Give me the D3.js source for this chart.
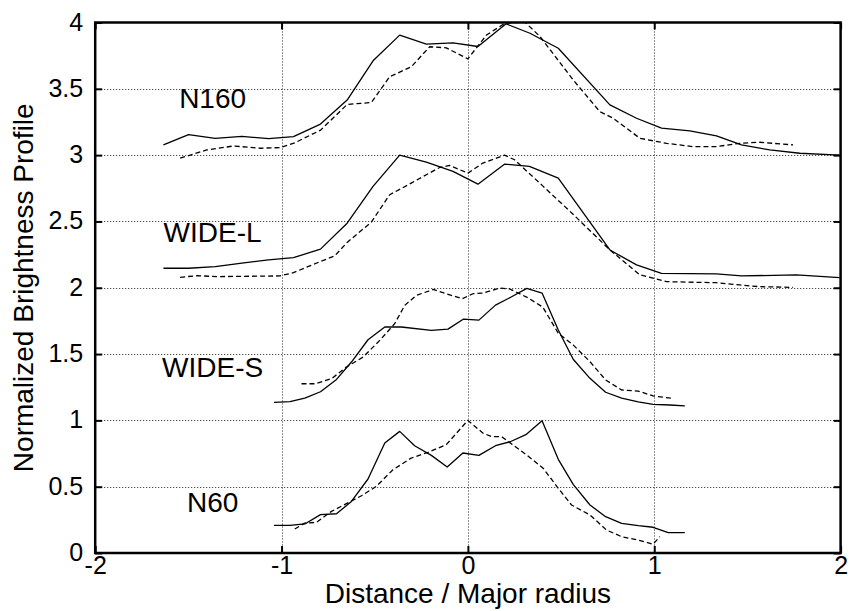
<!DOCTYPE html>
<html>
<head>
<meta charset="utf-8">
<script src="https://cdn.jsdelivr.net/npm/d3@7"></script>
<style>
  html, body { margin: 0; padding: 0; background: #fff; }
  svg { display: block; }
  text { font-family: "Liberation Sans", Arial, Helvetica, sans-serif; fill: #000; }
</style>
</head>
<body>
<svg id="chart" width="851" height="611"></svg>
<script>
// ---- data ----
const xTicks = [-2, -1, 0, 1, 2];
const yTicks = [0, 0.5, 1, 1.5, 2, 2.5, 3, 3.5, 4];
const xLabel = "Distance / Major radius";
const yLabel = "Normalized Brightness Profile";

const n160Solid = [[-1.634,3.077],[-1.499,3.155],[-1.356,3.127],[-1.213,3.142],[-1.070,3.124],[-0.936,3.140],[-0.791,3.234],[-0.648,3.415],[-0.509,3.711],[-0.366,3.905],[-0.223,3.837],[-0.080,3.847],[0.054,3.819],[0.205,3.990],[0.333,3.919],[0.485,3.806],[0.762,3.379],[0.905,3.278],[1.039,3.203],[1.191,3.183],[1.334,3.145],[1.468,3.077],[1.620,3.039],[1.781,3.014],[1.995,3.0]];
const n160Dashed = [[-1.544,2.977],[-1.401,3.039],[-1.258,3.069],[-1.115,3.052],[-1.008,3.057],[-0.929,3.093],[-0.791,3.188],[-0.648,3.382],[-0.518,3.397],[-0.420,3.591],[-0.304,3.666],[-0.205,3.817],[-0.116,3.809],[0.0,3.726],[0.100,3.906],[0.200,3.995],[0.306,4.003],[0.387,3.894],[0.565,3.567],[0.708,3.328],[0.780,3.278],[0.923,3.127],[1.066,3.089],[1.209,3.064],[1.334,3.064],[1.459,3.089],[1.566,3.097],[1.745,3.077]];
const wideLSolid = [[-1.634,2.147],[-1.499,2.147],[-1.356,2.159],[-1.213,2.185],[-1.070,2.210],[-0.936,2.227],[-0.791,2.291],[-0.648,2.487],[-0.509,2.764],[-0.366,3.0],[-0.223,2.947],[-0.080,2.877],[0.054,2.781],[0.196,2.932],[0.330,2.915],[0.485,2.826],[0.762,2.285],[0.905,2.172],[1.039,2.109],[1.334,2.104],[1.468,2.089],[1.762,2.097],[1.995,2.076]];
const wideLDashed = [[-1.544,2.079],[-1.454,2.091],[-1.347,2.084],[-1.008,2.089],[-0.936,2.114],[-0.791,2.198],[-0.714,2.241],[-0.648,2.342],[-0.518,2.495],[-0.420,2.701],[-0.304,2.789],[-0.152,2.907],[-0.098,2.922],[0.0,2.864],[0.080,2.940],[0.196,3.0],[0.250,2.965],[0.400,2.770],[0.560,2.560],[0.762,2.285],[0.923,2.097],[1.066,2.046],[1.227,2.041],[1.334,2.038],[1.459,2.021],[1.566,2.008],[1.745,2.003]];
const wideSSolid = [[-1.041,1.136],[-0.955,1.141],[-0.875,1.168],[-0.791,1.216],[-0.705,1.309],[-0.625,1.440],[-0.536,1.608],[-0.446,1.704],[-0.357,1.704],[-0.196,1.678],[-0.107,1.688],[-0.023,1.764],[0.059,1.756],[0.148,1.869],[0.232,1.930],[0.316,1.995],[0.398,1.960],[0.485,1.682],[0.565,1.461],[0.655,1.317],[0.739,1.212],[0.825,1.167],[0.914,1.139],[0.994,1.121],[1.084,1.116],[1.164,1.109]];
const wideSDashed = [[-0.893,1.276],[-0.821,1.276],[-0.732,1.314],[-0.652,1.402],[-0.563,1.477],[-0.473,1.603],[-0.393,1.729],[-0.339,1.867],[-0.277,1.942],[-0.187,1.987],[-0.116,1.955],[-0.030,1.917],[0.027,1.955],[0.080,1.960],[0.170,1.997],[0.223,1.992],[0.321,1.925],[0.402,1.854],[0.485,1.657],[0.565,1.569],[0.655,1.443],[0.739,1.305],[0.825,1.229],[0.914,1.221],[0.994,1.184],[1.093,1.167]];
const n60Solid = [[-1.041,0.209],[-0.955,0.209],[-0.875,0.219],[-0.791,0.289],[-0.705,0.296],[-0.625,0.389],[-0.536,0.558],[-0.446,0.829],[-0.366,0.917],[-0.286,0.809],[-0.196,0.736],[-0.111,0.648],[-0.027,0.754],[0.059,0.736],[0.148,0.809],[0.227,0.839],[0.311,0.892],[0.398,0.997],[0.485,0.706],[0.565,0.518],[0.655,0.362],[0.739,0.274],[0.825,0.224],[0.914,0.206],[0.994,0.194],[1.075,0.153],[1.164,0.153]];
const n60Dashed = [[-0.929,0.181],[-0.875,0.226],[-0.813,0.231],[-0.732,0.314],[-0.652,0.372],[-0.571,0.432],[-0.491,0.503],[-0.402,0.628],[-0.304,0.716],[-0.214,0.759],[-0.116,0.817],[0.0,1.0],[0.080,0.905],[0.127,0.877],[0.181,0.877],[0.315,0.739],[0.404,0.639],[0.485,0.488],[0.556,0.362],[0.655,0.287],[0.744,0.173],[0.825,0.123],[0.914,0.098],[0.994,0.066],[1.030,0.123]];

const seriesNames = ["N160", "WIDE-L", "WIDE-S", "N60"];
const nameX = [-1.37, -1.37, -1.37, -1.37];
const nameY = [3.356, 2.348, 1.325, 0.311];

// ---- layout ----
const svg = d3.select("#chart");
const L = 95.2, R = 840.6, T = 22.5, B = 553;
const x = d3.scaleLinear().domain([-2, 2]).range([L, R]);
const y = d3.scaleLinear().domain([0, 4]).range([B, T]);
const fmt = d => String(d); // plain hyphen-minus, like the reference

svg.append("defs").append("clipPath").attr("id", "clip")
  .append("rect").attr("x", L).attr("y", T).attr("width", R - L).attr("height", B - T);

// grid
const grid = svg.append("g").attr("stroke", "#222").attr("stroke-width", 1).attr("stroke-dasharray", "1,2");
grid.selectAll(".gx").data(xTicks.filter(d => d > -2 && d < 2)).join("line")
  .attr("x1", d => Math.round(x(d)) + 0.5).attr("x2", d => Math.round(x(d)) + 0.5)
  .attr("y1", T).attr("y2", B);
grid.selectAll(".gy").data(yTicks.filter(d => d > 0 && d < 4)).join("line")
  .attr("y1", d => Math.round(y(d)) + 0.5).attr("y2", d => Math.round(y(d)) + 0.5)
  .attr("x1", L).attr("x2", R);

// lines
const line = d3.line().x(d => x(d[0])).y(d => y(d[1]));
const plot = svg.append("g").attr("clip-path", "url(#clip)")
  .attr("fill", "none").attr("stroke", "#000").attr("stroke-width", 1.3).attr("stroke-linejoin", "round");
[n160Solid, wideLSolid, wideSSolid, n60Solid].forEach(s => plot.append("path").attr("d", line(s)));
[n160Dashed, wideLDashed, wideSDashed, n60Dashed].forEach(s => plot.append("path").attr("d", line(s)).attr("stroke-dasharray", "5,3"));

// axes (inward ticks on all four sides)
const fs = 25;
const gB = svg.append("g").attr("transform", `translate(0,${B})`)
  .call(d3.axisBottom(x).tickValues(xTicks).tickFormat(fmt).tickSizeInner(-7).tickSizeOuter(0).tickPadding(3));
const gT = svg.append("g").attr("transform", `translate(0,${T})`)
  .call(d3.axisTop(x).tickValues(xTicks).tickFormat("").tickSizeInner(-7).tickSizeOuter(0));
const gL = svg.append("g").attr("transform", `translate(${L},0)`)
  .call(d3.axisLeft(y).tickValues(yTicks).tickFormat(fmt).tickSizeInner(-7).tickSizeOuter(0).tickPadding(12));
const gR = svg.append("g").attr("transform", `translate(${R},0)`)
  .call(d3.axisRight(y).tickValues(yTicks).tickFormat("").tickSizeInner(-7).tickSizeOuter(0));
[gB, gT, gL, gR].forEach(g => {
  g.select(".domain").remove();
  g.selectAll(".tick line").attr("stroke", "#000").attr("stroke-width", 2);
  g.selectAll("text").attr("font-size", fs).attr("font-family", "Liberation Sans, Arial, sans-serif").attr("fill", "#000");
});
gL.selectAll("text").attr("dy", "0.30em");
gB.selectAll("text").attr("dy", "0.72em");

// frame
svg.append("rect").attr("x", L).attr("y", T).attr("width", R - L).attr("height", B - T)
  .attr("fill", "none").attr("stroke", "#000").attr("stroke-width", 2.5);

// series names
svg.append("g").selectAll("text").data(seriesNames).join("text")
  .attr("x", (d, i) => x(nameX[i])).attr("y", (d, i) => y(nameY[i]))
  .attr("text-anchor", "middle").attr("font-size", 28).text(d => d);

// axis titles
svg.append("text").attr("x", (L + R) / 2).attr("y", 603)
  .attr("text-anchor", "middle").attr("font-size", 28).text(xLabel);
svg.append("text").attr("transform", `translate(33,${(T + B) / 2}) rotate(-90)`)
  .attr("text-anchor", "middle").attr("font-size", 28).text(yLabel);
</script>
</body>
</html>
